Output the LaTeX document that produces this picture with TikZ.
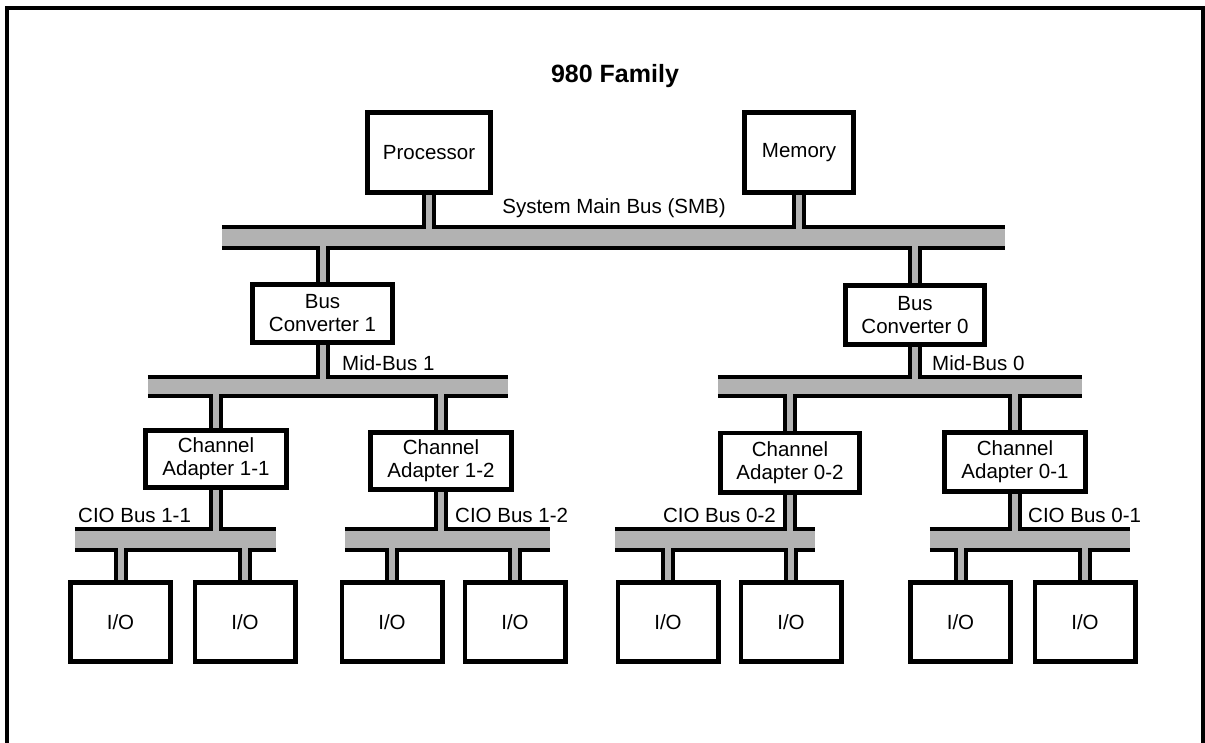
\documentclass[tikz,border=0pt]{standalone}
\usepackage{fontspec}
\setmainfont{Liberation Sans}
\usetikzlibrary{calc,backgrounds}
\tikzset{
  box/.style={draw, line width=4.8pt, fill=white, inner sep=0pt, align=center,
    font=\fontsize{20.5}{23}\selectfont},
  iobox/.style={box, minimum width=100.2pt, minimum height=79.2pt},
  bus/.style={fill=black!30, draw=none, inner sep=0pt},
  busline/.style={line width=4pt},
  stipple/.style={fill=black!30},
  stubline/.style={line width=4pt},
  lbl/.style={inner sep=0pt, font=\fontsize{20.5}{23}\selectfont},
  frameline/.style={line width=3.5pt},
}
% #1 upper node, #2 lower node, #3 node giving the x position
\newcommand\stubconn[3]{%
  \fill[stipple] ($(#1.south -| #3)+(-3,-2.5)$) rectangle ($(#2.north -| #3)+(3,2.5)$);
  \draw[stubline] ($(#1.south -| #3)+(-5,0)$) -- ($(#2.north -| #3)+(-5,0)$)
                  ($(#1.south -| #3)+(5,0)$) -- ($(#2.north -| #3)+(5,0)$);
}
\newcommand\busnode[5]{% name, cx, cy, width, height
  \node[bus, minimum width=#4pt, minimum height=#5pt] (#1) at (#2,#3) {};
  \draw[busline] (#1.north west) -- (#1.north east) (#1.south west) -- (#1.south east);
}
\begin{document}
\begin{tikzpicture}[x=1pt,y=-1pt]
\useasboundingbox (0,0) rectangle (1205,742);
\draw[frameline] (7,760) -- (7,8) -- (1203,8) -- (1203,760);

% title
\node[lbl, anchor=base, font=\bfseries\fontsize{25}{28}\selectfont] (title) at (615,82) {980 Family};

% boxes
\node[box, minimum width=123.2pt, minimum height=80.2pt] (proc) at (429,152.5) {Processor};
\node[box, minimum width=109.2pt, minimum height=80.2pt] (mem) at (799,152.5) {Memory};
\node[box, minimum width=140.2pt, minimum height=58.2pt] (bc1) at (322.5,313.5) {Bus\\Converter 1};
\node[box, minimum width=139.2pt, minimum height=59.2pt] (bc0) at (915,315) {Bus\\Converter 0};
\node[box, minimum width=141.2pt, minimum height=57.2pt] (ca11) at (216,459) {Channel\\Adapter 1-1};
\node[box, minimum width=141.2pt, minimum height=57.2pt] (ca12) at (441,461) {Channel\\Adapter 1-2};
\node[box, minimum width=139.2pt, minimum height=59.2pt] (ca02) at (790,462.5) {Channel\\Adapter 0-2};
\node[box, minimum width=141.2pt, minimum height=59.2pt] (ca01) at (1015,462) {Channel\\Adapter 0-1};
\node[iobox] (io1) at (120.5,622) {I/O};
\node[iobox] (io2) at (245,622) {I/O};
\node[iobox] (io3) at (392,622) {I/O};
\node[iobox] (io4) at (515,622) {I/O};
\node[iobox] (io5) at (668,622) {I/O};
\node[iobox] (io6) at (791,622) {I/O};
\node[iobox] (io7) at (960.5,622) {I/O};
\node[iobox] (io8) at (1085,622) {I/O};

% labels
\node[lbl, anchor=base] (smblbl) at (614,213) {System Main Bus (SMB)};
\node[lbl, anchor=base west] (mb1lbl) at (342,370) {Mid-Bus 1};
\node[lbl, anchor=base west] (mb0lbl) at (932,370) {Mid-Bus 0};
\node[lbl, anchor=base west] (c11lbl) at (78,522) {CIO Bus 1-1};
\node[lbl, anchor=base west] (c12lbl) at (455,522) {CIO Bus 1-2};
\node[lbl, anchor=base east] (c02lbl) at (776,522) {CIO Bus 0-2};
\node[lbl, anchor=base west] (c01lbl) at (1028,522) {CIO Bus 0-1};

\begin{scope}[on background layer]
  \fill[white] (0,0) rectangle (1205,742);
  \busnode{smb}{613.5}{237.5}{783}{21}
  \busnode{mb1}{328}{386.5}{360}{19}
  \busnode{mb0}{900}{386.5}{364}{19}
  \busnode{cio11}{175.5}{539.5}{201}{21}
  \busnode{cio12}{447.5}{539.5}{205}{21}
  \busnode{cio02}{715}{539.5}{200}{21}
  \busnode{cio01}{1030}{539.5}{200}{21}

  \stubconn{proc}{smb}{proc}
  \stubconn{mem}{smb}{mem}
  \stubconn{smb}{bc1}{bc1}
  \stubconn{smb}{bc0}{bc0}
  \stubconn{bc1}{mb1}{bc1}
  \stubconn{bc0}{mb0}{bc0}
  \stubconn{mb1}{ca11}{ca11}
  \stubconn{mb1}{ca12}{ca12}
  \stubconn{mb0}{ca02}{ca02}
  \stubconn{mb0}{ca01}{ca01}
  \stubconn{ca11}{cio11}{ca11}
  \stubconn{ca12}{cio12}{ca12}
  \stubconn{ca02}{cio02}{ca02}
  \stubconn{ca01}{cio01}{ca01}
  \stubconn{cio11}{io1}{io1}
  \stubconn{cio11}{io2}{io2}
  \stubconn{cio12}{io3}{io3}
  \stubconn{cio12}{io4}{io4}
  \stubconn{cio02}{io5}{io5}
  \stubconn{cio02}{io6}{io6}
  \stubconn{cio01}{io7}{io7}
  \stubconn{cio01}{io8}{io8}
\end{scope}
\end{tikzpicture}
\end{document}
